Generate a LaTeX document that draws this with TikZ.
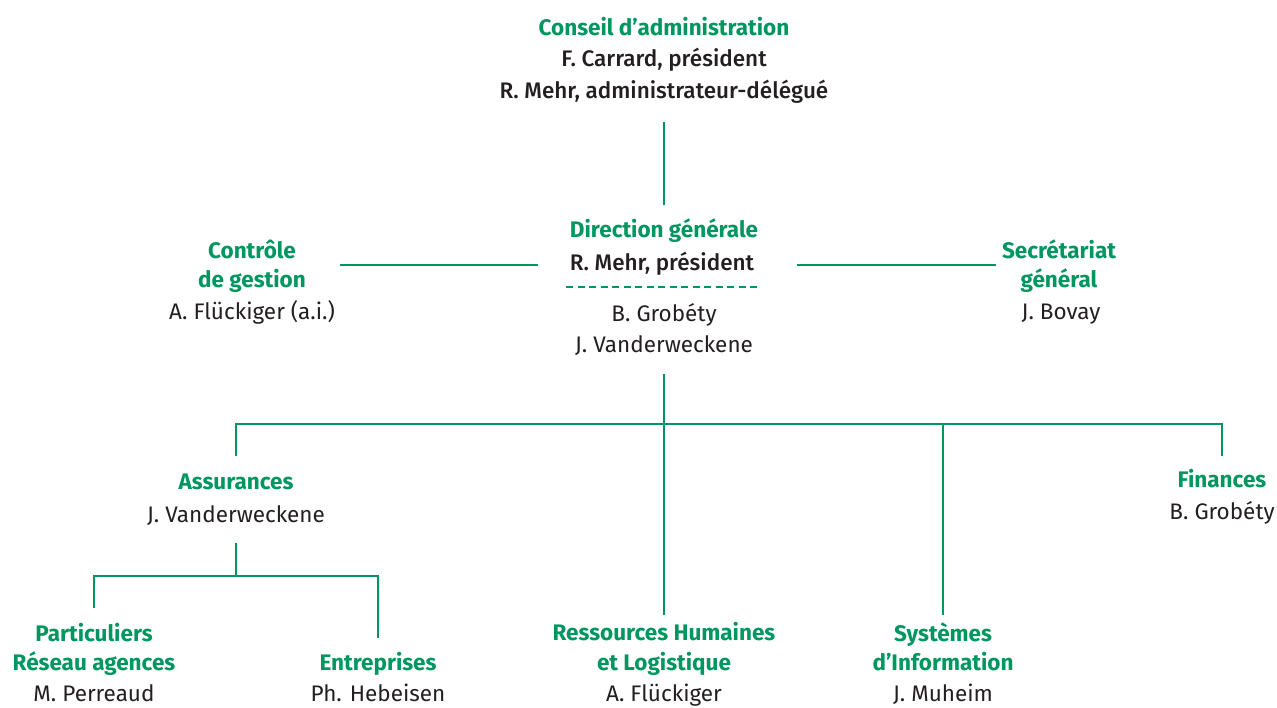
\documentclass[tikz,border=0pt]{standalone}
\usepackage{fontspec}
\setmainfont{Fira Sans}
\newfontfamily\medfont{Fira Sans Medium}
\definecolor{bcvgreen}{RGB}{0,150,95}
\definecolor{txt}{RGB}{35,31,32}
\begin{document}
\begin{tikzpicture}[x=1pt,y=-1pt,
  t/.style={anchor=base,inner sep=0pt},
  hd/.style={t,text=bcvgreen,font=\fontsize{22.5}{26}\selectfont\bfseries},
  md/.style={t,text=txt,font=\fontsize{22.5}{26}\medfont},
  nm/.style={t,text=txt,font=\fontsize{22.5}{26}\selectfont},
  ln/.style={draw=bcvgreen,line width=1.8pt}]
\useasboundingbox (0,0) rectangle (1277,707);
% Conseil
\node[hd] (ca1) at (664,35) {Conseil d’administration};
\node[md] (ca2) at (664,66) {F. Carrard, président};
\node[md] (ca3) at (664,98) {R. Mehr, administrateur-délégué};
% Direction
\node[hd] (dg1) at (664,237) {Direction générale};
\node[md] (dg2) at (662,270) {R. Mehr, président};
\node[nm] (dg3) at (664,321) {B. Grobéty};
\node[nm] (dg4) at (664,352) {J. Vanderweckene};
\coordinate (dsl) at (566,287);
\coordinate (dsr) at (760,287);
\draw[draw=bcvgreen,line width=1.8pt,dash pattern=on 7pt off 4.5pt] (dsl) -- (dsr);
% Controle
\node[hd] (cg1) at (252,258) {Contrôle};
\node[hd] (cg2) at (252,287) {de gestion};
\node[nm] (cg3) at (252,319) {A. Flückiger (a.i.)};
% Secretariat
\node[hd] (sg1) at (1059,258) {Secrétariat};
\node[hd] (sg2) at (1059,287) {général};
\node[nm] (sg3) at (1061,319) {J. Bovay};
% Assurances
\node[hd] (as1) at (236,489) {Assurances};
\node[nm] (as2) at (236,522) {J. Vanderweckene};
% Finances
\node[hd] (fi1) at (1222,487) {Finances};
\node[nm] (fi2) at (1222,519) {B. Grobéty};
% Particuliers
\node[hd] (pa1) at (94,641) {Particuliers};
\node[hd] (pa2) at (94,670) {Réseau agences};
\node[nm] (pa3) at (94,701) {M. Perreaud};
% Entreprises
\node[hd] (en1) at (378,670) {Entreprises};
\node[nm] (en2) at (378,701) {Ph. Hebeisen};
% RH
\node[hd] (rh1) at (664,640) {Ressources Humaines};
\node[hd] (rh2) at (664,670) {et Logistique};
\node[nm] (rh3) at (664,701) {A. Flückiger};
% SI
\node[hd] (si1) at (943,641) {Systèmes};
\node[hd] (si2) at (943,670) {d’Information};
\node[nm] (si3) at (943,701) {J. Muheim};
% connector points
\coordinate (caB) at (664,122);
\coordinate (dgT) at (664,205);
\coordinate (cgR) at (340,265);
\coordinate (dgL) at (538,265);
\coordinate (dgR) at (797,265);
\coordinate (sgL) at (996,265);
\coordinate (dgB) at (664,374);
\coordinate (bus) at (664,424);
\coordinate (asT) at (236,456);
\coordinate (fiT) at (1222,456);
\coordinate (rhT) at (664,615);
\coordinate (siT) at (943,615);
\coordinate (asB) at (236,543);
\coordinate (abus) at (236,576);
\coordinate (paT) at (94,608);
\coordinate (enT) at (378,638);
\draw[ln] (caB) -- (dgT);
\draw[ln] (cgR) -- (dgL);
\draw[ln] (dgR) -- (sgL);
\draw[ln] (dgB) -- (rhT);
\draw[ln] (asT) |- (bus) -| (fiT);
\draw[ln] (siT) -- (siT |- bus);
\draw[ln] (asB) -- (abus);
\draw[ln] (paT) |- (abus) -| (enT);
\end{tikzpicture}
\end{document}
